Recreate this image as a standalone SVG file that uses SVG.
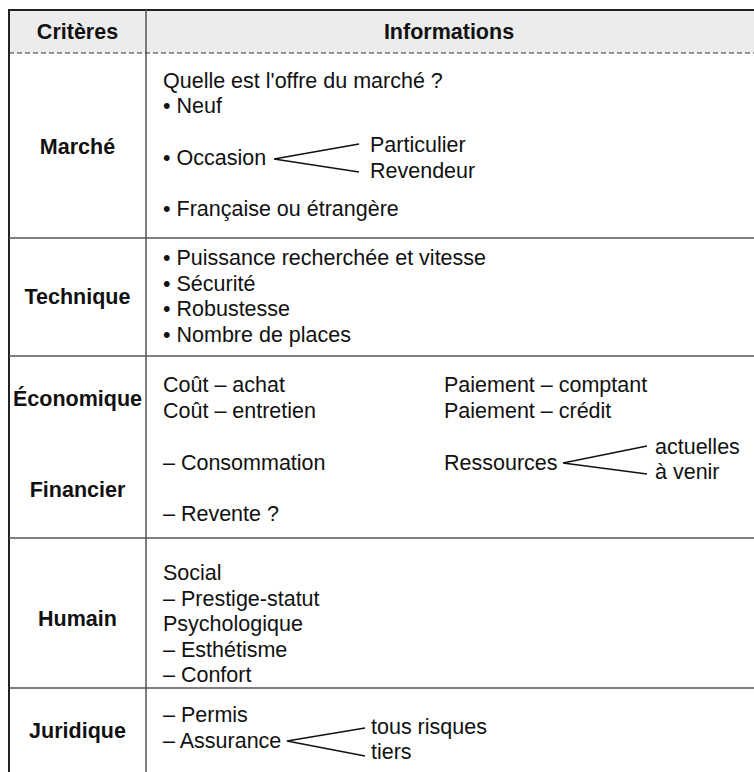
<svg xmlns="http://www.w3.org/2000/svg" width="754" height="772" viewBox="0 0 754 772">
  <style>
    text { font-family: "Liberation Sans", Arial, sans-serif; font-size: 21.5px; fill: #111; }
    .crit { font-weight: bold; text-anchor: middle; }
    .head { font-weight: bold; text-anchor: middle; }
    .rule { stroke: #555; stroke-width: 1.5; fill: none; }
    .frame { stroke: #222; stroke-width: 2; fill: none; }
    .dash { stroke: #333; stroke-width: 1.2; stroke-dasharray: 5 3; fill: none; }
    .brace { stroke: #111; stroke-width: 1.4; fill: none; }
  </style>

  <rect x="0" y="0" width="754" height="772" fill="#fff"/>

  <!-- header band -->
  <g id="header">
    <rect x="9" y="10" width="745" height="43" fill="#ececec"/>
    <text class="head" x="77.5" y="39">Critères</text>
    <text class="head" x="449" y="39">Informations</text>
  </g>

  <!-- grid lines -->
  <g id="grid">
    <line class="frame" x1="9" y1="10" x2="754" y2="10"/>
    <line class="frame" x1="9" y1="9" x2="9" y2="772"/>
    <line class="rule" x1="146" y1="10" x2="146" y2="772"/>
    <line class="dash" x1="9" y1="53" x2="754" y2="53"/>
    <line class="rule" x1="9" y1="238" x2="754" y2="238"/>
    <line class="rule" x1="9" y1="356" x2="754" y2="356"/>
    <line class="rule" x1="9" y1="538" x2="754" y2="538"/>
    <line class="rule" x1="9" y1="688" x2="754" y2="688"/>
  </g>

  <g id="row-marche">
    <text class="crit" x="77.5" y="154">Marché</text>
    <text x="163" y="88">Quelle est l'offre du marché ?</text>
    <text x="163" y="113">• Neuf</text>
    <text x="163" y="165">• Occasion</text>
    <text x="370" y="152">Particulier</text>
    <text x="370" y="178">Revendeur</text>
    <text x="163" y="216">• Française ou étrangère</text>
  </g>

  <g id="row-technique">
    <text class="crit" x="77.5" y="304">Technique</text>
    <text x="163" y="265">• Puissance recherchée et vitesse</text>
    <text x="163" y="290.5">• Sécurité</text>
    <text x="163" y="316">• Robustesse</text>
    <text x="163" y="341.5">• Nombre de places</text>
  </g>

  <g id="row-economique">
    <text class="crit" x="77.5" y="406">Économique</text>
    <text class="crit" x="77.5" y="497">Financier</text>
    <text x="163" y="392">Coût – achat</text>
    <text x="163" y="417.5">Coût – entretien</text>
    <text x="163" y="470">– Consommation</text>
    <text x="163" y="521">– Revente ?</text>
    <text x="444" y="392">Paiement – comptant</text>
    <text x="444" y="417.5">Paiement – crédit</text>
    <text x="444" y="470">Ressources</text>
    <text x="655" y="454">actuelles</text>
    <text x="655" y="479">à venir</text>
  </g>

  <g id="row-humain">
    <text class="crit" x="77.5" y="626">Humain</text>
    <text x="163" y="580">Social</text>
    <text x="163" y="605.5">– Prestige-statut</text>
    <text x="163" y="631">Psychologique</text>
    <text x="163" y="656.5">– Esthétisme</text>
    <text x="163" y="682">– Confort</text>
  </g>

  <g id="row-juridique">
    <text class="crit" x="77.5" y="738">Juridique</text>
    <text x="163" y="722">– Permis</text>
    <text x="163" y="747.5">– Assurance</text>
    <text x="371" y="734">tous risques</text>
    <text x="371" y="759">tiers</text>
  </g>

  <!-- branching strokes -->
  <g id="connectors">
    <polyline class="brace" points="359,144 274,159 359,172"/>
    <polyline class="brace" points="647,446 563,463 647,474"/>
    <polyline class="brace" points="365,728 287,741 365,756"/>
  </g>
</svg>
